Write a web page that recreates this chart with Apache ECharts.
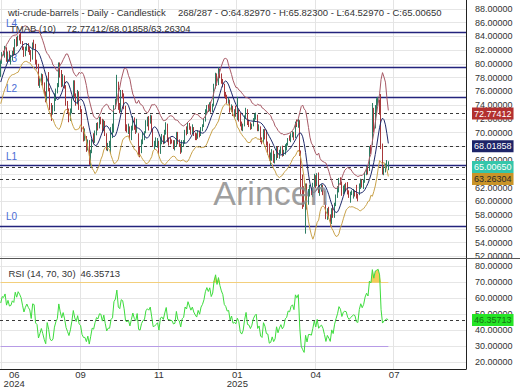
<!DOCTYPE html>
<html><head><meta charset="utf-8">
<script src="https://cdn.jsdelivr.net/npm/echarts@6/dist/echarts.min.js"></script>
<style>html,body{margin:0;padding:0;background:#fff}#c{width:520px;height:390px}</style>
</head><body><div id="c"></div>
<script>
// ---- data (daily OHLC, wti-crude-barrels) ----
const openP = [78.4,80.3,81.6,81.4,82.1,80.6,81.6,80.8,80.8,81.7,
81.6,83.4,82.8,83.9,83.6,83.1,82.3,81.4,82.1,82.6,
82.2,81.9,80.8,82.9,82.8,80.1,79.8,77.0,77.6,78.3,
77.2,75.8,74.7,77.9,76.3,73.5,72.9,73.2,75.2,76.2,
76.8,80.1,78.4,77.0,78.2,76.7,74.4,73.2,71.9,73.0,
74.8,77.4,75.5,74.5,75.9,73.6,73.2,70.3,69.2,69.2,
67.7,68.7,65.8,67.3,69.0,68.7,70.1,71.2,70.9,72.0,
71.9,70.4,71.6,69.7,67.7,68.2,68.2,69.8,70.1,73.7,
74.4,77.1,73.6,73.2,75.8,75.6,73.8,70.6,70.4,70.7,
69.2,70.6,72.1,70.8,70.2,69.8,67.4,67.2,68.6,69.3,
70.2,71.5,72.0,71.7,72.4,70.4,68.0,68.1,68.4,68.7,
67.0,69.2,69.4,68.9,70.1,71.2,68.9,68.8,68.7,68.6,
68.0,68.1,69.9,68.5,68.3,67.2,68.4,68.6,70.3,70.0,
71.3,70.7,70.1,70.6,69.9,69.5,69.2,70.1,69.6,70.6,
71.0,71.7,73.1,73.9,73.5,74.2,73.3,73.9,76.6,78.3,
77.2,79.2,78.2,77.5,77.0,75.6,75.3,74.6,74.7,73.2,
73.8,72.6,72.7,72.5,73.2,72.7,71.0,70.6,71.0,72.3,
73.3,71.4,71.3,70.7,71.1,71.9,72.3,72.5,70.4,70.7,
68.9,68.6,70.4,69.8,68.4,68.3,66.3,66.4,67.0,66.0,
66.3,67.7,66.6,67.2,67.6,66.9,67.2,68.1,68.3,69.1,
69.0,69.7,69.9,69.4,71.5,71.2,71.7,67.0,62.0,60.7,
59.6,62.4,60.1,61.5,61.5,61.3,62.3,63.6,62.4,63.9,
61.6,62.0,62.2,61.4,59.8,57.7,58.7,57.9,56.9,58.8,
57.8,59.5,60.6,61.6,63.2,62.7,61.2,62.1,62.3,62.2,
61.2,60.8,61.1,61.3,61.5,61.4,60.5,61.1,62.1,63.0,
62.5,63.0,64.2,64.9,64.6,67.8,68.5,72.0,70.9,73.8,
74.2,74.6,74.5,67.9,64.3,64.8,65.1,64.8297];
const highP = [80.5,81.7,81.9,82.6,82.4,81.8,81.9,81.3,81.9,82.4,
83.6,83.9,84.1,84.3,84.5,83.3,82.5,82.5,83.0,83.0,
82.5,82.0,83.1,83.5,82.9,80.6,80.0,77.9,78.6,78.5,
77.3,76.0,78.2,78.8,76.5,74.3,74.0,75.7,76.4,77.2,
80.2,80.2,79.1,78.5,78.3,76.9,74.6,73.5,73.5,75.0,
77.6,77.6,75.7,76.2,76.0,73.9,73.4,70.9,70.6,69.5,
69.0,68.9,67.5,69.1,69.9,70.3,71.4,71.5,72.3,72.3,
72.0,71.9,71.7,69.9,68.5,68.8,70.8,71.3,74.0,74.9,
78.4,77.4,74.3,76.2,76.2,75.7,73.9,71.2,71.3,70.9,
71.0,72.4,72.2,71.0,72.0,69.9,67.9,69.0,70.0,70.2,
71.8,72.3,72.4,72.6,72.5,70.5,68.8,69.3,69.2,68.8,
69.3,69.8,69.6,70.4,71.5,71.3,69.3,69.3,69.0,68.9,
68.9,70.1,70.1,69.0,68.4,68.9,68.9,70.4,70.9,71.4,
71.4,70.9,71.2,70.8,70.0,69.9,70.3,70.3,70.8,71.2,
72.0,73.4,74.0,74.1,74.4,74.5,74.2,77.1,78.7,78.6,
79.5,79.3,78.6,77.8,77.1,75.9,75.5,75.1,74.8,74.1,
73.9,73.4,73.9,75.2,73.4,72.9,71.6,71.3,72.5,73.6,
73.4,71.9,71.5,71.3,72.1,72.7,72.9,72.6,71.2,70.9,
69.3,70.5,70.5,70.4,68.7,68.4,67.1,67.6,67.4,66.9,
67.9,68.0,67.5,68.0,68.1,67.5,68.3,68.5,69.2,69.6,
69.9,70.2,70.1,71.6,71.9,72.0,71.8,67.4,63.9,62.2,
62.6,62.6,61.8,62.4,62.0,62.7,64.0,63.8,64.1,64.2,
62.4,62.5,62.4,61.5,60.0,59.0,59.2,58.1,59.0,59.5,
59.8,61.0,62.2,63.4,63.5,62.9,62.3,62.5,62.7,62.8,
61.6,61.4,61.6,61.8,61.6,62.4,61.1,62.6,63.3,63.2,
63.2,64.3,65.2,65.2,68.0,68.2,74.3,73.6,74.0,75.0,
75.2,74.8,75.6,68.4,65.1,65.5,66.0,65.823];
const lowP = [78.1,80.0,81.2,80.9,80.3,80.1,80.4,79.9,80.5,81.2,
81.4,82.5,82.6,83.4,82.9,82.0,81.0,81.1,81.9,81.7,
81.3,80.3,80.6,82.2,79.9,79.2,76.8,76.5,76.9,76.8,
75.5,74.4,74.6,76.0,73.3,71.7,72.6,73.1,74.6,75.7,
76.6,78.0,76.6,76.7,76.4,73.9,72.8,71.5,71.7,72.8,
74.7,75.2,73.9,74.1,73.3,72.9,70.1,68.7,68.8,67.2,
67.4,65.3,65.1,67.0,68.3,68.5,69.6,70.3,70.6,71.2,
70.0,70.2,69.5,67.4,67.3,67.8,66.9,69.2,70.0,73.4,
74.2,73.3,72.8,73.0,75.0,73.4,70.2,70.0,69.8,68.9,
68.9,70.3,70.4,69.8,70.0,66.7,66.4,67.0,68.3,68.9,
69.9,70.9,70.3,71.3,70.2,67.9,67.6,67.9,67.8,66.9,
66.9,68.3,68.3,68.4,69.7,68.6,68.1,68.3,68.4,67.6,
67.4,67.9,68.3,67.9,66.9,67.1,67.9,68.4,69.6,69.8,
70.4,69.7,69.8,69.5,68.9,68.9,69.1,69.3,69.5,70.2,
70.8,71.6,72.7,73.0,73.1,72.9,73.0,73.8,76.4,76.8,
76.9,77.9,77.1,76.6,75.2,74.9,74.2,74.2,72.9,73.0,
72.4,72.1,72.3,71.8,71.6,70.9,70.3,70.2,70.9,72.0,
71.1,70.8,70.4,70.5,70.9,71.6,71.9,70.2,70.2,68.6,
68.3,68.4,69.0,68.1,66.8,65.9,65.2,65.9,65.6,65.5,
66.0,66.3,66.2,66.9,66.5,66.6,66.8,67.4,68.1,68.8,
68.6,69.3,68.9,69.2,70.8,70.7,66.6,61.0,58.9,59.2,
55.3,58.8,59.5,60.7,60.9,60.6,62.1,61.9,62.2,61.2,
60.8,61.4,60.9,59.6,57.4,57.3,57.5,56.3,56.7,57.6,
57.6,59.3,60.5,61.3,62.4,60.8,61.0,61.2,61.5,61.0,
60.5,59.8,60.9,60.4,60.7,60.4,60.0,60.9,61.8,62.0,
61.8,62.7,63.8,63.9,64.4,66.9,68.2,70.0,70.6,72.8,
73.9,72.6,67.6,63.9,63.8,64.2,64.8,64.5297];
const closeP = [80.3,81.6,81.5,82.2,80.7,81.6,80.8,80.9,81.7,81.5,
83.4,82.8,83.9,83.6,83.2,82.3,81.4,82.1,82.6,82.2,
81.9,80.8,82.9,82.8,80.1,79.8,77.0,77.6,78.3,77.2,
75.8,74.7,77.9,76.3,73.5,72.9,73.2,75.2,76.2,76.8,
80.1,78.4,77.0,78.2,76.7,74.4,73.2,71.9,73.0,74.8,
77.4,75.5,74.5,75.9,73.6,73.2,70.3,69.2,69.2,67.7,
68.7,65.8,67.3,69.0,68.7,70.1,71.2,70.9,72.0,71.9,
70.4,71.6,69.7,67.7,68.2,68.2,69.8,70.1,73.7,74.4,
77.1,73.6,73.2,75.8,75.6,73.8,70.6,70.4,70.7,69.2,
70.6,72.1,70.8,70.2,71.8,67.4,67.2,68.6,69.3,69.5,
71.5,72.0,71.7,72.4,70.4,68.0,68.1,68.4,68.7,67.0,
69.2,69.4,68.9,70.1,71.2,68.9,68.8,68.7,68.6,68.0,
68.1,69.9,68.5,68.3,67.2,68.4,68.6,70.3,70.0,71.3,
70.7,70.1,70.6,69.9,69.5,69.2,70.1,69.6,70.6,71.0,
71.7,73.1,73.9,73.5,74.2,73.3,73.9,76.6,78.3,77.2,
79.2,78.2,77.5,77.0,75.6,75.3,74.6,74.7,73.2,73.8,
72.6,72.7,72.5,73.2,72.7,71.0,70.6,71.0,72.3,73.3,
71.4,71.3,70.7,71.1,71.9,72.3,72.5,70.4,70.7,68.9,
68.6,70.4,69.8,68.4,68.3,66.3,66.4,67.0,66.0,66.3,
67.7,66.6,67.2,67.6,66.9,67.2,68.1,68.3,69.1,69.0,
69.7,69.9,69.4,71.5,71.2,71.7,67.0,62.0,60.7,59.6,
62.4,60.1,61.5,61.5,61.3,62.5,63.9,62.4,63.9,61.6,
62.0,62.2,61.4,59.8,57.7,58.7,57.9,56.9,58.8,57.8,
59.5,60.6,61.6,63.2,62.7,61.2,62.1,62.3,62.2,61.2,
60.8,61.1,61.3,61.5,61.4,60.5,60.4,62.1,63.0,62.5,
63.0,64.2,64.9,64.6,67.8,67.6,72.0,70.9,73.8,74.2,
74.6,73.9,67.9,64.3,64.8,65.1,65.3,65.0065];
// bars before the first visible one, used only to start the indicators
const warmHigh = [79.4,80.1,80.4,79.9,79.6,78.2,78.0,78.1,80.1,80.1,79.3,78.3,77.2,74.6,74.6,75.8,76.3,77.9,78.9,79.4,78.8,78.9];
const warmLow = [78.2,78.9,79.3,78.6,77.4,76.2,76.6,77.5,77.6,79.0,77.5,76.5,74.0,72.5,72.9,73.9,74.7,75.2,77.3,78.1,77.6,77.9];
const warmClose = [79.2,80.1,79.8,79.3,77.6,76.9,77.7,77.8,79.8,79.2,77.9,77.0,74.2,73.3,74.1,75.6,75.5,77.7,78.9,78.5,78.6,78.5];

const levelNames = ['L0','L1','L2','L3','L4'];
const levelValues = [56.4153, 65.2843, 75.093, 79.511, 84.556];
const levelText = ['56.4153','65.2843','75.093','79.511','84.556'];
const currentValues = [72.77412, 68.01858, 65.0065, 63.26304];
const currentText = ['72.77412','68.01858','65.00650','63.26304'];
const rsiCurrent = 46.35713;
const rsiCurrentText = '46.35713';
const priceTicks = [52,54,56,58,60,62,64,66,68,70,72,74,76,78,80,82,84,86,88];
const rsiTicks = [20,30,40,50,60,70,80];
const tickIndex = [1,55,109,163,217,271];
const tickText = ['06\n2024','09','11','01\n2025','04','07'];

// ---- trading-day categories ----
const SLOTS = 321;
const skipDays = ['2024-12-25','2025-01-01','2025-04-18'];
const dates = [];
{ const d = new Date(Date.UTC(2024,5,17));
  while (dates.length < SLOTS) {
    const wd = d.getUTCDay(), s = d.toISOString().slice(0,10);
    if (wd !== 0 && wd !== 6 && skipDays.indexOf(s) < 0) dates.push(s);
    d.setUTCDate(d.getUTCDate()+1);
  } }

// ---- indicators ----
const W = warmClose.length;
const allH = warmHigh.concat(highP), allL = warmLow.concat(lowP), allC = warmClose.concat(closeP);
function sma(a, n) {
  return a.map((_, i) => {
    if (i < n-1) return null;
    let s = 0;
    for (let k = i-n+1; k <= i; k++) { if (a[k] == null) return null; s += a[k]; }
    return s / n;
  });
}
const tma = sma(sma(allC, 6), 5);
const tr = allC.map((c, i) => i === 0 ? allH[i]-allL[i] :
  Math.max(allH[i]-allL[i], Math.abs(allH[i]-allC[i-1]), Math.abs(allL[i]-allC[i-1])));
const atr = sma(tr, 10);
const K = 1.8;
const midBand = tma.slice(W);
const upBand = tma.map((m, i) => (m == null || atr[i] == null) ? null : m + K*atr[i]).slice(W);
const loBand = tma.map((m, i) => (m == null || atr[i] == null) ? null : m - K*atr[i]).slice(W);
function rsiCalc(c, n) {
  const out = c.map(() => null);
  let g = 0, l = 0;
  for (let i = 1; i <= n; i++) { const d = c[i]-c[i-1]; if (d > 0) g += d; else l -= d; }
  g /= n; l /= n;
  out[n] = l === 0 ? 100 : 100 - 100/(1+g/l);
  for (let i = n+1; i < c.length; i++) {
    const d = c[i]-c[i-1];
    g = (g*(n-1) + Math.max(d,0))/n; l = (l*(n-1) + Math.max(-d,0))/n;
    out[i] = l === 0 ? 100 : 100 - 100/(1+g/l);
  }
  return out;
}
const rsi = rsiCalc(allC, 14).slice(W);
const candles = closeP.map((c, i) => [openP[i], c, lowP[i], highP[i]]);
const lastIdx = closeP.length - 1;

const FONT = '"Liberation Sans", Arial, sans-serif';
const tickMap = {};
tickIndex.forEach((t, k) => { tickMap[t] = tickText[k]; });

const levelLines = levelValues.map((v, i) => ({
  yAxis: v,
  lineStyle: {color: '#23237c', width: 1.3, type: 'solid'},
  label: {show: true, position: 'insideStartTop', formatter: levelNames[i], color: '#4a6cd4', fontSize: 10, fontFamily: FONT, distance: [6, 4]}
}));
const levelValueLabels = levelValues.map((v, i) => {
  const st = {lineStyle: {opacity: 0, width: 0}, label: {show: true, position: 'insideEndTop', formatter: levelText[i], color: '#6f8fe3', fontSize: 9.5, fontFamily: FONT, distance: [2, 1.5]}};
  return [Object.assign({coord: [dates[0], v]}, st), Object.assign({coord: [dates[295], v]}, st)];
});
const boxBg = ['#b3302f', '#1d2468', '#34c6aa', '#c99428'];
const boxFg = ['#ffffff', '#ffffff', '#ffffff', '#2a2a2a'];
const curLines = currentValues.map((v, i) => ({
  yAxis: v,
  lineStyle: {color: '#3a3a3a', width: 1.2, type: [3, 3]},
  label: {show: true, position: 'end', formatter: currentText[i], backgroundColor: boxBg[i], color: boxFg[i], padding: [2, 2, 1, 2], fontSize: 9, fontFamily: FONT, distance: 6}
}));

const chart = echarts.init(document.getElementById('c'), null, {renderer: 'svg', width: 520, height: 390});
chart.setOption({
  animation: false,
  backgroundColor: '#ffffff',
  textStyle: {fontFamily: FONT},
  grid: [
    {left: 0, right: 54, top: 0, height: 258, outerBoundsMode: 'none', containLabel: false},
    {left: 0, right: 54, top: 258, height: 111, outerBoundsMode: 'none', containLabel: false}
  ],
  xAxis: [
    {type: 'category', gridIndex: 0, data: dates, boundaryGap: true,
     axisLine: {show: true, lineStyle: {color: '#555', width: 1}},
     axisTick: {show: false}, axisLabel: {show: false},
     splitLine: {show: true, interval: (i) => tickIndex.indexOf(i) >= 0, lineStyle: {color: '#e4e4e4', width: 1}}},
    {type: 'category', gridIndex: 1, data: dates, boundaryGap: true,
     axisLine: {show: true, lineStyle: {color: '#222', width: 1}},
     axisTick: {show: false},
     splitLine: {show: true, interval: (i) => tickIndex.indexOf(i) >= 0, lineStyle: {color: '#e4e4e4', width: 1}},
     axisLabel: {interval: (i) => tickIndex.indexOf(i) >= 0, margin: 1, fontSize: 9.5, lineHeight: 9, color: '#333', fontFamily: FONT,
       formatter: (v, i) => {
         const t = tickMap[i] || '';
         if (i === tickIndex[0]) return t.split('\n').map(s => '{p|' + s + '}').join('\n');
         return t;
       },
       rich: {p: {padding: [0, 0, 0, 24], fontSize: 9.5, lineHeight: 9, color: '#333', fontFamily: FONT}}}}
  ],
  yAxis: [
    {type: 'value', gridIndex: 0, position: 'right', min: 51.76, max: 89.28,
     axisLine: {show: true, lineStyle: {color: '#222', width: 1}},
     axisTick: {show: false, customValues: priceTicks},
     axisLabel: {customValues: priceTicks, formatter: (v) => v.toFixed(5), margin: 9, fontSize: 9, color: '#333', fontFamily: FONT, padding: [0, 0, 3, 0]},
     splitLine: {show: true, lineStyle: {color: '#e6e6e6', width: 1}}},
    {type: 'value', gridIndex: 1, position: 'right', min: 15.5, max: 85.3,
     axisLine: {show: true, lineStyle: {color: '#222', width: 1}},
     axisTick: {show: false, customValues: rsiTicks},
     axisLabel: {customValues: rsiTicks, formatter: (v) => v.toFixed(5), margin: 9, fontSize: 9, color: '#333', fontFamily: FONT},
     splitLine: {show: true, lineStyle: {color: '#e6e6e6', width: 1}}}
  ],
  series: [
    {type: 'candlestick', name: 'wti-crude-barrels', xAxisIndex: 0, yAxisIndex: 0, data: candles,
     barWidth: 1, clip: false, z: 3,
     itemStyle: {color: '#2e7d64', color0: '#a8383a', borderColor: '#2e7d64', borderColor0: '#a8383a', borderWidth: 1},
     markLine: {silent: true, symbol: ['none', 'none'], animation: false, z: 1,
       data: levelLines.concat(levelValueLabels, curLines)}},
    {type: 'line', name: 'TMAB upper', xAxisIndex: 0, yAxisIndex: 0, data: upBand, symbol: 'none', clip: false, z: 4,
     lineStyle: {color: '#a85a66', width: 1}},
    {type: 'line', name: 'TMAB mid', xAxisIndex: 0, yAxisIndex: 0, data: midBand, symbol: 'none', clip: false, z: 4,
     lineStyle: {color: '#1f2a6b', width: 1}},
    {type: 'line', name: 'TMAB lower', xAxisIndex: 0, yAxisIndex: 0, data: loBand, symbol: 'none', clip: false, z: 4,
     lineStyle: {color: '#c9a24a', width: 1}},
    {type: 'line', name: 'rsiBase', xAxisIndex: 1, yAxisIndex: 1, stack: 'ob', silent: true,
     data: rsi.map(v => v == null ? null : 70), symbol: 'none', lineStyle: {width: 0, opacity: 0}, z: 2},
    {type: 'line', name: 'rsiOver', xAxisIndex: 1, yAxisIndex: 1, stack: 'ob', silent: true,
     data: rsi.map(v => v == null ? null : Math.max(v - 70, 0)), symbol: 'none',
     lineStyle: {width: 0, opacity: 0}, areaStyle: {color: '#f2c33c', opacity: 0.85}, z: 2},
    {type: 'line', name: 'RSI', xAxisIndex: 1, yAxisIndex: 1, data: rsi, symbol: 'none', clip: false, z: 4,
     lineStyle: {color: '#3ddc3d', width: 1},
     markLine: {silent: true, symbol: ['none', 'none'], animation: false, z: 1,
       data: [
         [{coord: [dates[0], 70], lineStyle: {color: '#f3cf7c', width: 1.2, type: 'solid'}, label: {show: false}},
          {coord: [dates[lastIdx], 70], lineStyle: {color: '#f3cf7c', width: 1.2, type: 'solid'}, label: {show: false}}],
         [{coord: [dates[0], 30], lineStyle: {color: '#b79be6', width: 1.2, type: 'solid'}, label: {show: false}},
          {coord: [dates[lastIdx], 30], lineStyle: {color: '#b79be6', width: 1.2, type: 'solid'}, label: {show: false}}],
         {yAxis: rsiCurrent, lineStyle: {color: '#3a3a3a', width: 1.2, type: [3, 3]},
          label: {show: true, position: 'end', formatter: rsiCurrentText, backgroundColor: '#25e425', color: '#137313', padding: [2, 2, 1, 2], fontSize: 9, fontFamily: FONT, distance: 6}}
       ]}}
  ],
  graphic: [
    {type: 'line', silent: true, z: 5, shape: {x1: 466, y1: 258.5, x2: 520, y2: 258.5}, style: {stroke: '#555', lineWidth: 1}},
    {type: 'text', left: 8, top: 7, z: 10, style: {text: 'wti-crude-barrels - Daily - Candlestick', font: '9.5px ' + FONT, fill: '#333'}},
    {type: 'text', left: 178, top: 7, z: 10, style: {text: '268/287 - O:64.82970 - H:65.82300 - L:64.52970 - C:65.00650', font: '9.5px ' + FONT, fill: '#333'}},
    {type: 'text', left: 10, top: 23.5, z: 10, style: {text: 'TMAB (10)', font: '9.5px ' + FONT, fill: '#333'}},
    {type: 'text', left: 66.5, top: 23.5, z: 10, style: {text: '72.77412/68.01858/63.26304', font: '9.5px ' + FONT, fill: '#333'}},
    {type: 'text', left: 8.5, top: 268, z: 10, style: {text: 'RSI (14, 70, 30)', font: '9.5px ' + FONT, fill: '#333'}},
    {type: 'text', left: 80.5, top: 268, z: 10, style: {text: '46.35713', font: '9.5px ' + FONT, fill: '#333'}},
    {type: 'text', x: 271, y: 193, z: 10, silent: true, style: {text: 'Arincen', font: '34px ' + FONT, fill: '#8e8e8e', opacity: 0.85, align: 'center', verticalAlign: 'middle', textAlign: 'center', textVerticalAlign: 'middle'}}
  ]
});
</script>
</body></html>
